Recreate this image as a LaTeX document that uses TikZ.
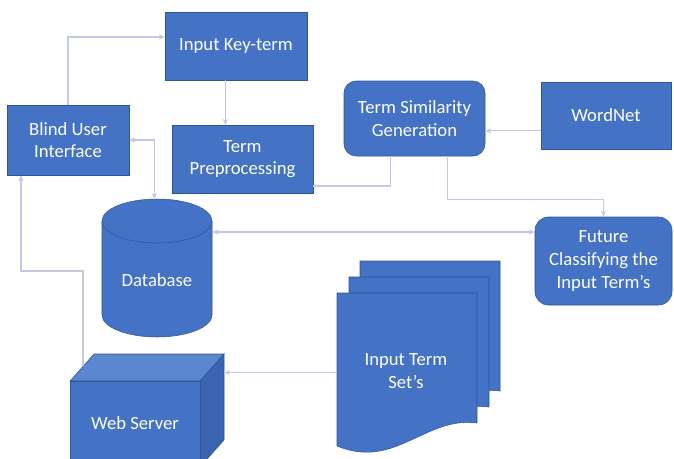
\documentclass[tikz,border=0pt]{standalone}
\usepackage{fontspec}
\setmainfont{Carlito}
\usetikzlibrary{arrows.meta,positioning}
\definecolor{boxblue}{HTML}{4472C4}
\definecolor{boxedge}{HTML}{2F5597}
\definecolor{topface}{HTML}{5B86D0}
\definecolor{sideface}{HTML}{3A64B0}
\definecolor{wire}{HTML}{C3C8E6}

\begin{document}
\begin{tikzpicture}[
  x=0.75pt, y=-0.75pt,
  font=\fontsize{14}{17}\selectfont,
  box/.style={draw=boxedge, fill=boxblue, text=white, align=center, inner sep=2pt},
  rbox/.style={box, rounded corners=9pt},
  ghost/.style={inner sep=0pt, text=white, align=center},
  link/.style={draw=wire, line width=0.8pt},
  >={Stealth[length=4.5pt, width=4pt]}]
\useasboundingbox (0,0) rectangle (674,458);

% boxes
\node[box, minimum width=106.5pt, minimum height=51pt] (ikt) at (236,46) {Input Key-term};
\node[box, minimum width=91.5pt, minimum height=52.5pt] (bui) at (68,140) {Blind User\\Interface};
\node[box, minimum width=105.75pt, minimum height=51pt] (tp) at (242.5,159) {Term\\Preprocessing};
\node[rbox, minimum width=105.75pt, minimum height=56.25pt] (tsg) at (414.5,118.5) {Term Similarity\\Generation};
\node[box, minimum width=97.5pt, minimum height=50.25pt] (wn) at (606,115.5) {WordNet};
\node[rbox, rounded corners=10pt, minimum width=102.75pt, minimum height=66pt] (fut) at (603.5,261) {Future\\Classifying the\\Input Term’s};

% database
\fill[boxblue, draw=boxedge] (102,221) -- (102,315)
  arc[start angle=180, end angle=360, x radius=41.25pt, y radius=16.5pt]
  -- (212,221)
  arc[start angle=0, end angle=180, x radius=41.25pt, y radius=16.5pt] -- cycle;
\draw[boxedge] (102,221) arc[start angle=180, end angle=360, x radius=41.25pt, y radius=16.5pt];
\node[minimum width=82.5pt, minimum height=103.5pt] (db) at (157,268) {};
\node[ghost] (dblabel) at (157,280) {Database};

% web server
\fill[topface, draw=boxedge] (70,381) -- (94,354) -- (224,354) -- (200,381) -- cycle;
\fill[sideface, draw=boxedge] (200,381) -- (224,354) -- (224,440) -- (200,467) -- cycle;
\node[box, minimum width=97.5pt, minimum height=64pt, anchor=north] (ws) at (135,381) {};
\node[ghost] (wslabel) at (135,423) {Web Server};
\coordinate (wsback) at (224,354);

% input term sets
\foreach \dx/\dy in {23/-32, 12/-16, 0/0}
  \fill[boxblue, draw=boxedge, shift={(\dx,\dy)}] (337,293) -- (477,293) -- (477,423)
    .. controls (425,416) and (395,470) .. (337,446) -- cycle;
\node[minimum width=105pt, minimum height=115pt] (its) at (407,370) {};
\node[ghost] (itslabel) at (406,371) {Input Term\\Set’s};

% connectors
\draw[link,->] (bui.north) |- ([yshift=6.75pt]ikt.west);
\draw[link,->] ([xshift=-8pt]ikt.south) -- ([xshift=-8pt]ikt.south |- tp.north);
\draw[link] ([yshift=-20.25pt]tp.east) -| ([xshift=-18pt]tsg.south);
\path ([yshift=-11.5pt]wn.west) coordinate (wnw);
\draw[link,->] (wnw) -- (wnw -| tsg.east);
\draw[link,->] ([xshift=24.4pt]tsg.south) -- ++(0,43) -| (fut.north);
\path ([yshift=27pt]db.east) coordinate (dbe);
\draw[link,<->] (dbe) -- (dbe -| fut.west);
\draw[link,<->] (bui.east) -| ([xshift=-2pt]db.north);
\coordinate (turn) at (21,271);
\draw[link,->] ([xshift=-39pt,yshift=11pt]ws.north) |- (turn) -- (turn |- bui.south);
\draw[link,->] ([yshift=-2pt]its.west) -- ([yshift=-2pt]its.west -| wsback);
\end{tikzpicture}
\end{document}
